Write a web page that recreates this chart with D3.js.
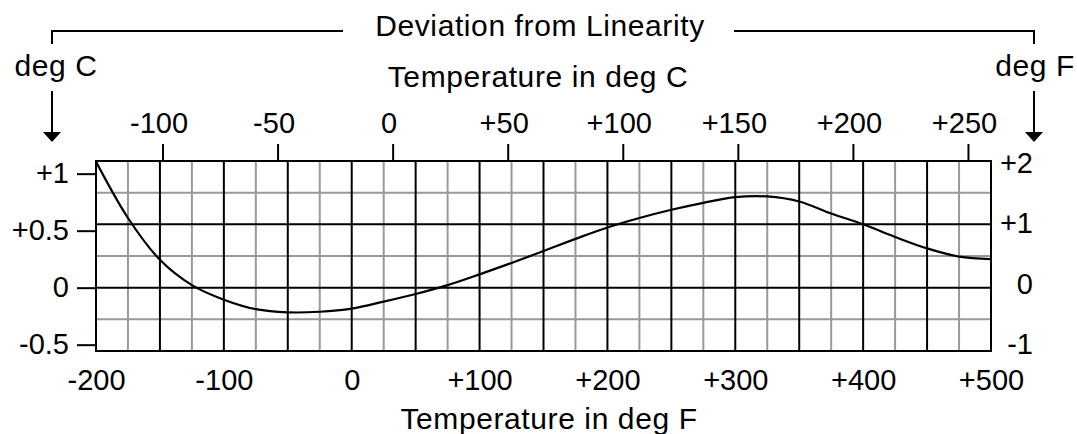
<!DOCTYPE html>
<html>
<head>
<meta charset="utf-8">
<script src="https://cdn.jsdelivr.net/npm/d3@7"></script>
<style>
  body { margin: 0; background: #fff; }
  svg { display: block; }
  text { font-family: "Liberation Sans", Arial, sans-serif; fill: #000; }
  .title { font-size: 30px; letter-spacing: 0.6px; }
</style>
</head>
<body>
<script>
// deviation from linearity chart
// x is read off the grid in deg F, deviation in deg F

var tempF = [-200, -175, -150, -125, -100, -75, -50, -25, 0, 25, 50, 75, 100, 125,
  150, 175, 200, 225, 250, 275, 300, 325, 350, 375, 400, 425, 450, 475, 500];
var devF = [1.99, 1.10, 0.44, 0.04, -0.19, -0.34, -0.39, -0.38, -0.33, -0.22, -0.10, 0.04, 0.21, 0.39,
  0.58, 0.77, 0.95, 1.10, 1.23, 1.34, 1.43, 1.44, 1.36, 1.17, 1.00, 0.80, 0.62, 0.49, 0.45];

var ticksC = [-100, -50, 0, 50, 100, 150, 200, 250];
var ticksF = [-200, -100, 0, 100, 200, 300, 400, 500];
var devTicksC = [-0.5, 0, 0.5, 1];
var devTicksF = [-1, 0, 1, 2];

var w = 1077;
var h = 434;
// (window.top is taken, so plot edges get their own names)
var pLeft = 96, pRight = 991, pTop = 161, pBottom = 351;

var svg = d3.select("body")
  .append("svg")
  .attr("width", w)
  .attr("height", h);

// scales
var scaleX = d3.scaleLinear().domain([-200, 500]).range([pLeft, pRight]);
var scaleXC = d3.scaleLinear()
  .domain([(-200 - 32) / 1.8, (500 - 32) / 1.8])
  .range([pLeft, pRight]);
var scaleY = d3.scaleLinear().domain([-1, 2]).range([pBottom, pTop]);
var scaleYC = d3.scaleLinear().domain([-1 / 1.8, 2 / 1.8]).range([pBottom, pTop]);
// the right hand numbers sit a bit higher than the grid lines
var scaleYLabel = d3.scaleLinear().domain([-1, 2]).range([344, 163]);

function signed(d) {
  return d > 0 ? "+" + d : "" + d;
}

// grid, light lines first
var gridX = d3.range(-200, 501, 25);
var gridY = d3.range(-1, 2.01, 0.5);

var grid = svg.append("g");
grid.selectAll(".vl")
  .data(gridX.filter(function(d) { return d % 50 !== 0; }))
  .enter()
  .append("line")
  .attr("x1", function(d) { return scaleX(d); })
  .attr("x2", function(d) { return scaleX(d); })
  .attr("y1", pTop)
  .attr("y2", pBottom)
  .attr("stroke", "#999")
  .attr("stroke-width", 2);

grid.selectAll(".hl")
  .data(gridY.filter(function(d) { return d % 1 !== 0; }))
  .enter()
  .append("line")
  .attr("x1", pLeft)
  .attr("x2", pRight)
  .attr("y1", function(d) { return scaleY(d); })
  .attr("y2", function(d) { return scaleY(d); })
  .attr("stroke", "#999")
  .attr("stroke-width", 2);

grid.selectAll(".vd")
  .data(gridX.filter(function(d) { return d % 50 === 0; }))
  .enter()
  .append("line")
  .attr("x1", function(d) { return scaleX(d); })
  .attr("x2", function(d) { return scaleX(d); })
  .attr("y1", pTop)
  .attr("y2", pBottom)
  .attr("stroke", "#000")
  .attr("stroke-width", 2);

grid.selectAll(".hd")
  .data(gridY.filter(function(d) { return d % 1 === 0; }))
  .enter()
  .append("line")
  .attr("x1", pLeft)
  .attr("x2", pRight)
  .attr("y1", function(d) { return scaleY(d); })
  .attr("y2", function(d) { return scaleY(d); })
  .attr("stroke", "#000")
  .attr("stroke-width", 2);

svg.append("rect")
  .attr("x", pLeft)
  .attr("y", pTop)
  .attr("width", pRight - pLeft)
  .attr("height", pBottom - pTop)
  .attr("fill", "none")
  .attr("stroke", "#000")
  .attr("stroke-width", 2);

// curve
svg.append("clipPath")
  .attr("id", "clip")
  .append("rect")
  .attr("x", pLeft)
  .attr("y", pTop - 1)
  .attr("width", pRight - pLeft)
  .attr("height", pBottom - pTop + 2);

var line = d3.line()
  .x(function(d, i) { return scaleX(tempF[i]); })
  .y(function(d) { return scaleY(d); })
  .curve(d3.curveCatmullRom.alpha(0.5));

svg.append("path")
  .datum(devF)
  .attr("clip-path", "url(#clip)")
  .attr("d", line)
  .attr("fill", "none")
  .attr("stroke", "#000")
  .attr("stroke-width", 2.2);

// axes
var topAxis = d3.axisTop(scaleXC)
  .tickValues(ticksC)
  .tickFormat(signed)
  .tickSizeInner(17)
  .tickSizeOuter(0)
  .tickPadding(11);

var gTop = svg.append("g")
  .attr("transform", "translate(0," + pTop + ")")
  .call(topAxis);
gTop.select(".domain").remove();
gTop.selectAll("text").attr("dx", "-4");

var bottomAxis = d3.axisBottom(scaleX)
  .tickValues(ticksF)
  .tickFormat(signed)
  .tickSize(0);

var gBottom = svg.append("g")
  .attr("transform", "translate(0," + pBottom + ")")
  .call(bottomAxis);
gBottom.select(".domain").remove();
gBottom.selectAll("text")
  .attr("y", 39)
  .attr("dy", null);

var leftAxis = d3.axisLeft(scaleYC)
  .tickValues(devTicksC)
  .tickFormat(signed)
  .tickSizeInner(19)
  .tickSizeOuter(0)
  .tickPadding(8);

var gLeft = svg.append("g")
  .attr("transform", "translate(" + pLeft + ",0)")
  .call(leftAxis);
gLeft.select(".domain").remove();

svg.selectAll(".tick line")
  .attr("stroke", "#000")
  .attr("stroke-width", 2);
svg.selectAll(".tick text")
  .style("font-family", "Liberation Sans, Arial, sans-serif")
  .style("font-size", "29px")
  .attr("fill", "#000");

svg.selectAll(".rlab")
  .data(devTicksF)
  .enter()
  .append("text")
  .attr("x", 1033)
  .attr("y", function(d) { return scaleYLabel(d); })
  .attr("dy", "0.35em")
  .attr("text-anchor", "end")
  .style("font-size", "29px")
  .text(signed);

// titles
svg.append("text")
  .attr("class", "title")
  .attr("x", 540)
  .attr("y", 36)
  .attr("text-anchor", "middle")
  .text("Deviation from Linearity");

svg.append("text")
  .attr("class", "title")
  .attr("x", 538)
  .attr("y", 87)
  .attr("text-anchor", "middle")
  .text("Temperature in deg C");

svg.append("text")
  .attr("class", "title")
  .attr("x", 549)
  .attr("y", 429)
  .attr("text-anchor", "middle")
  .text("Temperature in deg F");

svg.append("text")
  .attr("class", "title")
  .attr("x", 56)
  .attr("y", 76)
  .attr("text-anchor", "middle")
  .text("deg C");

svg.append("text")
  .attr("class", "title")
  .attr("x", 1035)
  .attr("y", 76)
  .attr("text-anchor", "middle")
  .text("deg F");

// bracket round the title
var bracket = [
  [[52, 44], [52, 31], [343, 31]],
  [[734, 31], [1034, 31], [1034, 44]]
];
svg.selectAll(".bracket")
  .data(bracket)
  .enter()
  .append("path")
  .attr("d", d3.line())
  .attr("fill", "none")
  .attr("stroke", "#000")
  .attr("stroke-width", 2);

// arrows pointing down at each axis
var arrows = [52, 1034];
svg.selectAll(".arrow")
  .data(arrows)
  .enter()
  .append("line")
  .attr("x1", function(d) { return d; })
  .attr("x2", function(d) { return d; })
  .attr("y1", 91)
  .attr("y2", 133)
  .attr("stroke", "#000")
  .attr("stroke-width", 2);

svg.selectAll(".head")
  .data(arrows)
  .enter()
  .append("path")
  .attr("d", function(d) {
    return "M" + (d - 9) + ",132L" + (d + 9) + ",132L" + d + ",142Z";
  })
  .attr("fill", "#000");
</script>
</body>
</html>
